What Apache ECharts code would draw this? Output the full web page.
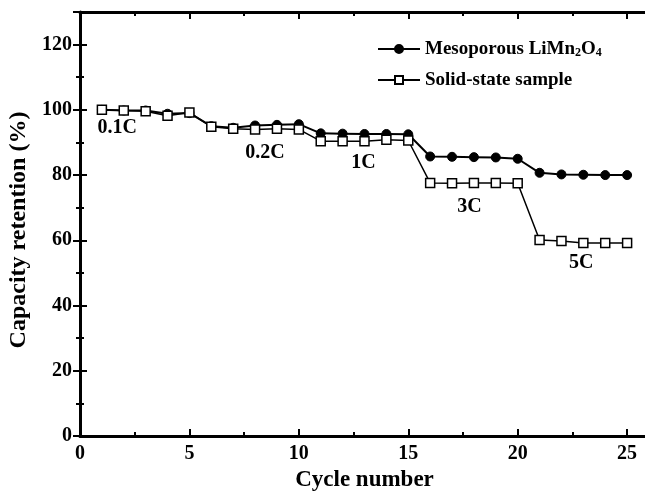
<!DOCTYPE html>
<html>
<head>
<meta charset="utf-8">
<script src="https://cdn.jsdelivr.net/npm/echarts@6/dist/echarts.min.js"></script>
<style>
  html, body { margin: 0; padding: 0; background: #fff; }
  #chart { width: 645px; height: 493px; }
</style>
</head>
<body>
<div id="chart"></div>
<script>
// Cycle numbers
const cycles = [1, 2, 3, 4, 5, 6, 7, 8, 9, 10, 11, 12, 13, 14, 15, 16, 17, 18, 19, 20, 21, 22, 23, 24, 25];
// Capacity retention (%) of mesoporous LiMn2O4
const mesoporous = [100, 99.8, 99.8, 98.8, 99.0, 95.0, 94.5, 95.2, 95.4, 95.6, 92.8, 92.7, 92.6, 92.6, 92.5, 85.7, 85.6, 85.5, 85.4, 85.0, 80.7, 80.2, 80.1, 80.0, 80.0];
// Capacity retention (%) of the solid-state sample
const solidState = [100, 99.8, 99.6, 98.2, 99.2, 94.8, 94.2, 94.0, 94.2, 94.0, 90.4, 90.4, 90.4, 90.8, 90.6, 77.6, 77.5, 77.6, 77.6, 77.5, 60.1, 59.8, 59.2, 59.2, 59.2];
// C-rate annotations: text, cycle position, retention position
const rateLabels = ['0.1C', '0.2C', '1C', '3C', '5C'];
const rateX = [1.7, 8.45, 12.95, 17.8, 22.9];
const rateY = [94.6, 86.8, 83.8, 70.3, 53.0];

const font = '"Liberation Serif", "Times New Roman", serif';

const chart = echarts.init(document.getElementById('chart'));

const axisLine = { show: true, onZero: false, lineStyle: { color: '#000', width: 3 } };
const tick = { show: true, inside: true, length: 7, lineStyle: { color: '#000', width: 2 } };
const minor = { show: true, splitNumber: 2, length: 4, lineStyle: { color: '#000', width: 2 } };

chart.setOption({
  animation: false,
  backgroundColor: '#fff',
  grid: { left: 80, top: 12, bottom: 57, right: -4, containLabel: false, outerBoundsMode: 'none' },
  legend: {
    orient: 'vertical',
    left: 372,
    top: 32,
    itemWidth: 42,
    itemHeight: 10,
    itemGap: 11,
    textStyle: {
      fontFamily: font, fontWeight: 'bold', fontSize: 19, color: '#000', lineHeight: 20,
      rich: {
        b: { fontFamily: font, fontWeight: 'bold', fontSize: 19, color: '#000', lineHeight: 20 },
        sub: { fontFamily: font, fontWeight: 'bold', fontSize: 12, color: '#000', lineHeight: 20, verticalAlign: 'bottom', padding: [10, 0, 0, 0] }
      }
    },
    formatter: function (name) {
      if (name === 'Mesoporous LiMn2O4') {
        return '{b|Mesoporous LiMn}{sub|2}{b|O}{sub|4}';
      }
      return name;
    },
    data: ['Mesoporous LiMn2O4', 'Solid-state sample']
  },
  xAxis: [
    {
      type: 'value', min: 0, max: 26, interval: 5,
      axisLine: axisLine, axisTick: tick, minorTick: minor,
      axisLabel: {
        color: '#000', fontFamily: font, fontWeight: 'bold', fontSize: 20, margin: 8,
        showMaxLabel: false
      },
      splitLine: { show: false },
      name: 'Cycle number', nameLocation: 'middle', nameGap: 31,
      nameTextStyle: { color: '#000', fontFamily: font, fontWeight: 'bold', fontSize: 23 }
    },
    {
      type: 'value', min: 0, max: 26, interval: 5, position: 'top',
      axisLine: axisLine, axisTick: tick, minorTick: minor,
      axisLabel: { show: false },
      splitLine: { show: false }
    }
  ],
  yAxis: [
    {
      type: 'value', min: 0, max: 130, interval: 20,
      axisLine: axisLine, axisTick: tick, minorTick: minor,
      axisLabel: {
        color: '#000', fontFamily: font, fontWeight: 'bold', fontSize: 20, margin: 8,
        showMaxLabel: false
      },
      splitLine: { show: false },
      name: 'Capacity retention (%)', nameLocation: 'middle', nameGap: 39,
      nameTextStyle: { color: '#000', fontFamily: font, fontWeight: 'bold', fontSize: 24, padding: [0, 12, 0, 0] }
    },
    {
      // right-hand frame: only the inward ticks fall inside the canvas
      type: 'value', min: 0, max: 130, interval: 20, position: 'right',
      axisLine: { show: false },
      axisTick: tick, minorTick: minor,
      axisLabel: { show: false },
      splitLine: { show: false }
    }
  ],
  series: [
    {
      name: 'Mesoporous LiMn2O4',
      type: 'line',
      data: cycles.map((c, i) => [c, mesoporous[i]]),
      symbol: 'circle',
      symbolSize: 9,
      itemStyle: { color: '#000', borderColor: '#000', borderWidth: 1 },
      lineStyle: { color: '#000', width: 2 },
      z: 3
    },
    {
      name: 'Solid-state sample',
      type: 'line',
      data: cycles.map((c, i) => [c, solidState[i]]),
      symbol: 'rect',
      symbolSize: 9,
      itemStyle: { color: '#fff', borderColor: '#000', borderWidth: 1.5 },
      lineStyle: { color: '#000', width: 1.5 },
      z: 4
    },
    {
      name: 'rates',
      type: 'scatter',
      silent: true,
      symbolSize: 1,
      itemStyle: { color: 'rgba(0,0,0,0)', opacity: 1 },
      data: rateLabels.map((t, i) => ({ value: [rateX[i], rateY[i]], name: t })),
      label: {
        show: true, position: 'inside', opacity: 1,
        formatter: p => p.name,
        color: '#000', fontFamily: font, fontWeight: 'bold', fontSize: 20
      },
      z: 5
    }
  ]
});
</script>
</body>
</html>
